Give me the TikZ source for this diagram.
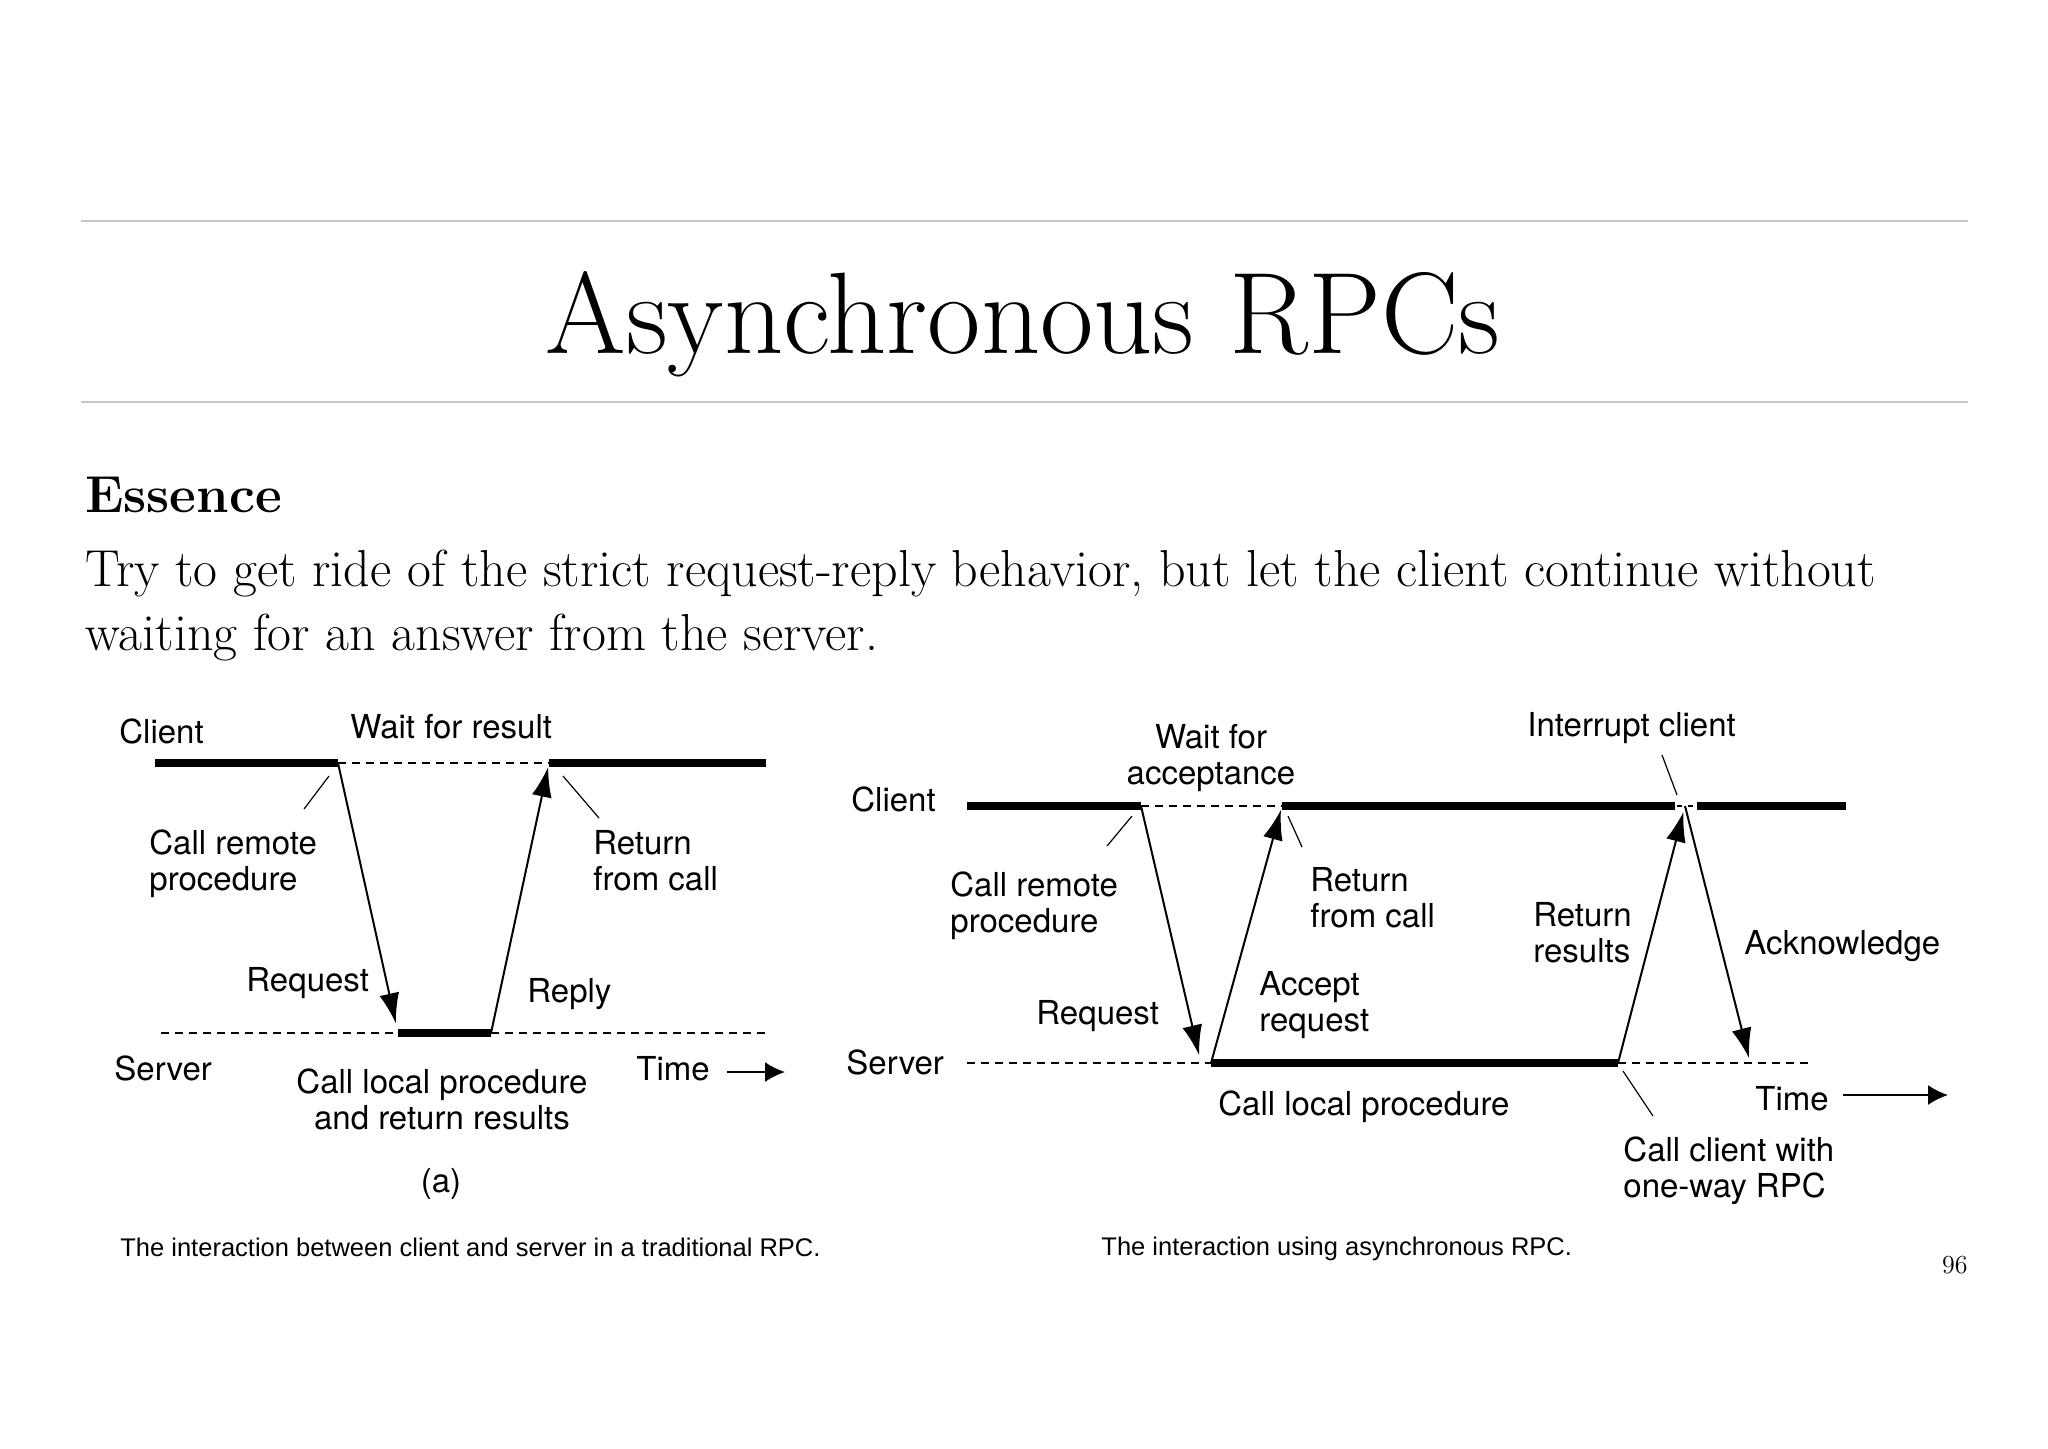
\documentclass[tikz,border=0pt]{standalone}
\usepackage{fontspec}
\usepackage{tikz}
\usetikzlibrary{arrows.meta,positioning}
\newfontfamily\figfont{TeX Gyre Heros}
\newfontfamily\capfont{Liberation Sans}

\begin{document}
\begin{tikzpicture}[x=0.5pt,y=-0.5pt,
    lbl/.style={font=\figfont\fontsize{16.5}{18}\selectfont, inner sep=0pt, anchor=base west, align=left},
    lblc/.style={lbl, anchor=base, align=center},
    captxt/.style={font=\capfont\fontsize{12.75}{15}\selectfont, inner sep=0pt, anchor=base west},
    busy/.style={line width=4pt},
    idle/.style={line width=0.75pt, dash pattern=on 4pt off 3pt},
    msg/.style={line width=1pt, -{Latex[length=15pt,width=10pt]}},
    lead/.style={line width=0.6pt},
    timearr/.style={line width=1pt, -{Latex[length=10pt,width=10pt]}},
    rule/.style={line width=1pt, black!22}]
    \useasboundingbox (0,0) rectangle (2048,1448);

    % Heading (two-line nodes sit on the baseline of their last line)
    \coordinate (r0) at (81,221);  \coordinate (r1) at (1968,221);
    \coordinate (r2) at (81,402);  \coordinate (r3) at (1968,402);
    \draw[rule] (r0) -- (r1);
    \draw[rule] (r2) -- (r3);
    \node[inner sep=0pt, anchor=base, font=\fontsize{58}{62}\selectfont] (title) at (1023,353) {Asynchronous RPCs};
    \node[inner sep=0pt, anchor=base west, font=\bfseries\fontsize{26}{30}\selectfont] (essence) at (85,512) {Essence};
    \node[inner sep=0pt, anchor=base west, align=left, font=\fontsize{26}{32}\selectfont] (body) at (85,650)
        {Try to get ride of the strict request-reply behavior, but let the client continue without\\waiting for an answer from the server.};

    % (a) traditional RPC
    \node[lbl] (cliA) at (119,743) {Client};
    \node[lbl] (waitA) at (350,738) {Wait for result};
    \node[lbl] (callA) at (149,890) {Call remote\\procedure};
    \node[lbl] (retA) at (593,890) {Return\\from call};
    \node[lbl] (reqA) at (246,991) {Request};
    \node[lbl] (repA) at (527,1002) {Reply};
    \node[lbl] (srvA) at (114,1080) {Server};
    \node[lblc] (locA) at (442,1129) {Call local procedure\\and return results};
    \node[lbl] (timeA) at (636,1080) {Time};
    \node[lblc] (subA) at (441,1192) {(a)};

    \coordinate (c0A) at (155,763);  \coordinate (c1A) at (338,763);
    \coordinate (c2A) at (549,763);  \coordinate (c3A) at (766,763);
    \coordinate (s0A) at (161,1033); \coordinate (s1A) at (398,1033);
    \coordinate (s2A) at (491,1033); \coordinate (s3A) at (767,1033);
    \draw[busy] (c0A) -- (c1A);
    \draw[idle] (c1A) -- (c2A);
    \draw[busy] (c2A) -- (c3A);
    \draw[idle] (s0A) -- (s1A);
    \draw[busy] (s1A) -- (s2A);
    \draw[idle] (s2A) -- (s3A);
    \draw[msg, shorten >=5pt] (c1A) -- (s1A);
    \draw[msg, shorten >=2pt] (s2A) -- (c2A);

    \coordinate (l0A) at (304,809); \coordinate (l1A) at (329,776);
    \coordinate (l2A) at (563,776); \coordinate (l3A) at (599,818);
    \draw[lead] (l0A) -- (l1A);
    \draw[lead] (l2A) -- (l3A);
    \coordinate (t0A) at (727,1072); \coordinate (t1A) at (785,1072);
    \draw[timearr] (t0A) -- (t1A);

    % (b) asynchronous RPC
    \node[lbl] (cliB) at (851,811) {Client};
    \node[lblc] (waitB) at (1211,784) {Wait for\\acceptance};
    \node[lbl] (intB) at (1527,736) {Interrupt client};
    \node[lbl] (callB) at (950,932) {Call remote\\procedure};
    \node[lbl] (retB) at (1310,927) {Return\\from call};
    \node[lbl] (resB) at (1533,962) {Return\\results};
    \node[lbl] (ackB) at (1744,954) {Acknowledge};
    \node[lbl] (accB) at (1259,1031) {Accept\\request};
    \node[lbl] (reqB) at (1036,1024) {Request};
    \node[lbl] (srvB) at (846,1074) {Server};
    \node[lbl] (locB) at (1218,1115) {Call local procedure};
    \node[lbl] (timeB) at (1755,1110) {Time};
    \node[lbl] (oneB) at (1623,1197) {Call client with\\one-way RPC};

    \coordinate (c0B) at (967,806);  \coordinate (c1B) at (1141,806);
    \coordinate (c2B) at (1282,806); \coordinate (c3B) at (1675,806);
    \coordinate (c4B) at (1697,806); \coordinate (c5B) at (1846,806);
    \coordinate (s0B) at (967,1063); \coordinate (s1B) at (1211,1063);
    \coordinate (s2B) at (1618,1063); \coordinate (s3B) at (1812,1063);
    \coordinate (rqB) at (1200,1059); \coordinate (irqB) at (1685,806);
    \coordinate (akB) at (1750,1062);
    \draw[busy] (c0B) -- (c1B);
    \draw[idle] (c1B) -- (c2B);
    \draw[busy] (c2B) -- (c3B);
    \draw[line width=0.75pt, dash pattern=on 2.5pt off 3pt, dash phase=-1pt] (c3B) -- (c4B);
    \draw[busy] (c4B) -- (c5B);
    \draw[idle] (s0B) -- (s1B);
    \draw[busy] (s1B) -- (s2B);
    \draw[idle] (s2B) -- (s3B);
    \draw[msg, shorten >=2pt] (c1B) -- (rqB);
    \draw[msg, shorten >=2pt] (s1B) -- (c2B);
    \draw[msg, shorten >=3pt] (s2B) -- (irqB);
    \draw[msg, shorten >=2pt] (irqB) -- (akB);

    \coordinate (l0B) at (1107,846); \coordinate (l1B) at (1132,816);
    \coordinate (l2B) at (1288,816); \coordinate (l3B) at (1302,847);
    \coordinate (l4B) at (1662,755); \coordinate (l5B) at (1677,795);
    \coordinate (l6B) at (1623,1071); \coordinate (l7B) at (1653,1116);
    \draw[lead] (l0B) -- (l1B);
    \draw[lead] (l2B) -- (l3B);
    \draw[lead] (l4B) -- (l5B);
    \draw[lead] (l6B) -- (l7B);
    \coordinate (t0B) at (1843,1095); \coordinate (t1B) at (1948,1095);
    \draw[timearr] (t0B) -- (t1B);

    % Captions
    \node[captxt] (capA) at (120,1256) {The interaction between client and server in a traditional RPC.};
    \node[captxt] (capB) at (1101,1255) {The interaction using asynchronous RPC.};
    \node[inner sep=0pt, anchor=base east, font=\fontsize{13}{15}\selectfont] (page) at (1968,1273) {96};
\end{tikzpicture}
\end{document}
